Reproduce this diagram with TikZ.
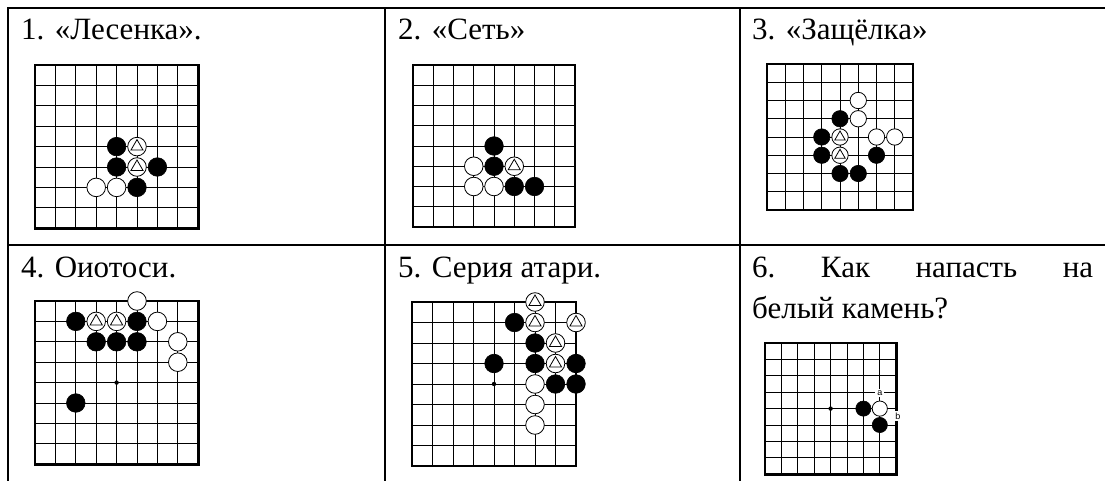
\documentclass[tikz,border=0pt]{standalone}
\usepackage{fontspec}
\setmainfont{Liberation Serif}
\newfontfamily\lblfont{Liberation Sans}
\tikzset{
  tabline/.style={line width=1.5pt, black},
  gridline/.style={line width=0.9pt, black},
  frameline/.style={line width=2.6pt, black, line join=miter},
  bstone/.style={fill=black, draw=black, line width=0.6pt},
  wstone/.style={fill=white, draw=black, line width=0.8pt},
  tri/.style={draw=black, line width=0.8pt, line join=miter},
  captext/.style={anchor=base west, inner sep=0pt, font=\fontsize{31}{36}\selectfont},
  lbl/.style={fill=white, inner sep=2pt, font=\lblfont\fontsize{9}{9}\selectfont},
}
\newcommand{\sr}{9.3pt}
\newcommand{\tr}{7pt}
\newcommand{\bst}[2]{\filldraw[bstone] (#1,#2) circle[radius=\sr];}
\newcommand{\wst}[2]{\filldraw[wstone] (#1,#2) circle[radius=\sr];}
\newcommand{\wtr}[2]{\filldraw[wstone] (#1,#2) circle[radius=\sr];
  \draw[tri] (#1,#2) ++(90:\tr) -- ++(240:1.732*\tr) -- ++(0:1.732*\tr) -- cycle;}
\newcommand{\hoshi}[2]{\fill (#1,#2) circle[radius=2.2pt];}
\newcommand{\goboard}[4]{%
  \begin{scope}[shift={(#1pt,-#2pt)}, x=#3pt, y=-#3pt]
    \foreach \i in {1,...,7} {
      \draw[gridline] (\i,0) -- (\i,8);
      \draw[gridline] (0,\i) -- (8,\i);
    }
    \draw[frameline] (0,0) rectangle (8,8);
    #4
  \end{scope}}
\begin{document}
\begin{tikzpicture}[x=1pt, y=-1pt]
\useasboundingbox[fill=white] (0,0) rectangle (1105,481);
% table
\draw[tabline] (7,8) -- (1105,8);
\draw[tabline] (8,8) -- (8,481);
\draw[tabline] (385,8) -- (385,481);
\draw[tabline] (740,8) -- (740,481);
\draw[tabline] (8,245) -- (1105,245);
% captions
\node[captext] (c1) at (21,40) {1. «Лесенка».};
\node[captext] (c2) at (398,40) {2. «Сеть»};
\node[captext] (c3) at (752,40) {3. «Защёлка»};
\node[captext] (c4) at (21,277) {4. Оиотоси.};
\node[captext] (c5) at (398,277) {5. Серия атари.};
\node[captext] (c6a) at (752,277) {\makebox[341pt][s]{6.\hfill Как\hfill напасть\hfill на}};
\node[captext] (c6b) at (752,318) {белый камень?};
% board 1
\renewcommand{\sr}{9.3pt}\renewcommand{\tr}{7pt}
\goboard{35}{65}{20.4}{
  \bst{4}{4}\wtr{5}{4}
  \bst{4}{5}\wtr{5}{5}\bst{6}{5}
  \wst{3}{6}\wst{4}{6}\bst{5}{6}
}
% board 2
\goboard{413}{65}{20.25}{
  \bst{4}{4}
  \wst{3}{5}\bst{4}{5}\wtr{5}{5}
  \wst{3}{6}\wst{4}{6}\bst{5}{6}\bst{6}{6}
}
% board 3
\renewcommand{\sr}{8.2pt}\renewcommand{\tr}{6pt}
\goboard{767}{64}{18.25}{
  \wst{5}{2}
  \bst{4}{3}\wst{5}{3}
  \bst{3}{4}\wtr{4}{4}\wst{6}{4}\wst{7}{4}
  \bst{3}{5}\wtr{4}{5}\bst{6}{5}
  \bst{4}{6}\bst{5}{6}
}
% board 4
\renewcommand{\sr}{9.3pt}\renewcommand{\tr}{7pt}
\goboard{35}{301}{20.4}{
  \hoshi{4}{4}
  \wst{5}{0}
  \bst{2}{1}\wtr{3}{1}\wtr{4}{1}\bst{5}{1}\wst{6}{1}
  \bst{3}{2}\bst{4}{2}\bst{5}{2}\wst{7}{2}
  \wst{7}{3}
  \bst{2}{5}
}
% board 5
\goboard{412}{302}{20.5}{
  \hoshi{4}{4}
  \wtr{6}{0}
  \bst{5}{1}\wtr{6}{1}\wtr{8}{1}
  \bst{6}{2}\wtr{7}{2}
  \bst{4}{3}\bst{6}{3}\wtr{7}{3}\bst{8}{3}
  \wst{6}{4}\bst{7}{4}\bst{8}{4}
  \wst{6}{5}
  \wst{6}{6}
}
% board 6
\renewcommand{\sr}{7.6pt}
\goboard{765}{343}{16.4}{
  \hoshi{4}{4}
  \bst{6}{4}\wst{7}{4}
  \bst{7}{5}
  \node[lbl] (la) at (7,3.05) {a};
  \node[lbl] (lb) at (8.1,4.45) {b};
}
\end{tikzpicture}
\end{document}
